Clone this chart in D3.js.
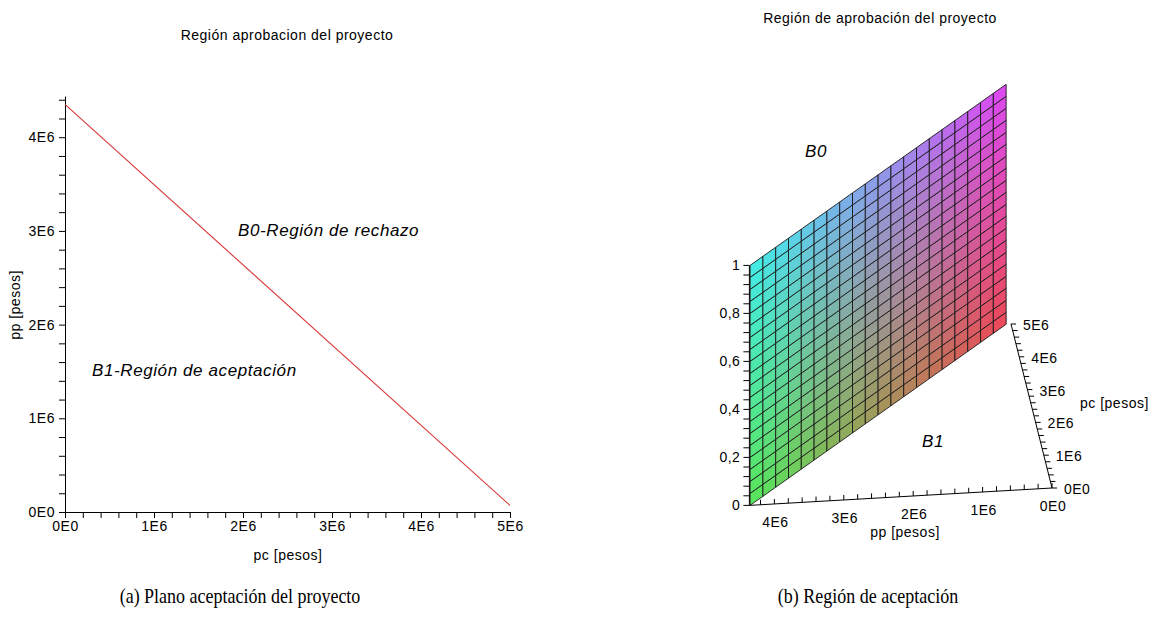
<!DOCTYPE html>
<html>
<head>
<meta charset="utf-8">
<script src="https://cdn.jsdelivr.net/npm/d3@7"></script>
<style>
  body { margin: 0; background: #fff; }
  svg text { font-family: "Liberation Sans", Arial, sans-serif; fill: #000; }
  .mp { font-size: 14px; letter-spacing: 0.5px; }
  .it { font-size: 17px; font-style: italic; letter-spacing: 0.6px; }
  .cap { font-family: "Liberation Serif", "Times New Roman", serif !important; font-size: 18px; }
</style>
</head>
<body>
<svg id="fig" width="1157" height="623"></svg>
<script>
// boundary line pp = f(pc)
const pcEnds = [0, 5e6];
const ppEnds = [4.35e6, 0.07e6];

// tick labels
const pcMajor = [0, 1e6, 2e6, 3e6, 4e6, 5e6];
const pcLabels = ["0E0", "1E6", "2E6", "3E6", "4E6", "5E6"];
const ppMajor = [0, 1e6, 2e6, 3e6, 4e6];
const ppLabels = ["0E0", "1E6", "2E6", "3E6", "4E6"];
const zMajor = [0, 0.2, 0.4, 0.6, 0.8, 1];
const zLabels = ["0", "0,2", "0,4", "0,6", "0,8", "1"];

// surface mesh and corner colours (pc low/high x z low/high)
const meshCols = 20, meshRows = 20;
const cornerColors = { c00: "rgb(86,232,90)", c01: "rgb(64,238,230)", c10: "rgb(238,70,86)", c11: "rgb(222,70,242)" };

const svg = d3.select('#fig');
const fmtLab = (vals, labs) => d => { const i = vals.indexOf(d); return i < 0 ? "" : labs[i]; };
const minor = (max, step) => d3.range(0, max + step / 2, step).map(v => Math.round(v / step) * step);

// ---------- left: 2D plane ----------
const xL = d3.scaleLinear().domain([0, 5e6]).range([65, 510]);
const yL = d3.scaleLinear().domain([0, 4.44e6]).range([512, 96]);

const gx = svg.append('g').attr('class', 'mp').attr('transform', 'translate(0,512)')
    .call(d3.axisBottom(xL).tickValues(minor(5e6, 2e5)).tickSize(6).tickSizeOuter(0).tickPadding(3)
        .tickFormat(fmtLab(pcMajor, pcLabels)));
const gy = svg.append('g').attr('class', 'mp').attr('transform', 'translate(65,0)')
    .call(d3.axisLeft(yL).tickValues(minor(4.4e6, 2e5)).tickSize(6).tickSizeOuter(0).tickPadding(4)
        .tickFormat(fmtLab(ppMajor, ppLabels)));
[gx, gy].forEach(g => g.attr('font-size', null).attr('font-family', null));

svg.append('path')
    .datum(pcEnds.map((pc, i) => [pc, ppEnds[i]]))
    .attr('d', d3.line().x(d => xL(d[0])).y(d => yL(d[1])))
    .attr('fill', 'none').attr('stroke', '#d83434').attr('stroke-width', 1.1);

svg.append('text').attr('class', 'mp').attr('x', 287).attr('y', 40).attr('text-anchor', 'middle')
    .text('Región aprobacion del proyecto');
svg.append('text').attr('class', 'mp').attr('x', 288).attr('y', 560).attr('text-anchor', 'middle')
    .text('pc [pesos]');
svg.append('text').attr('class', 'mp').attr('transform', 'translate(20,305) rotate(-90)').attr('text-anchor', 'middle')
    .text('pp [pesos]');
svg.append('text').attr('class', 'it').attr('x', 238).attr('y', 236).text('B0-Región de rechazo');
svg.append('text').attr('class', 'it').attr('x', 92).attr('y', 376).text('B1-Región de aceptación');

// ---------- right: 3D view ----------
const ppMax = 4.36e6;
const pcS = d3.scaleLinear().domain([0, 5e6]).range([0, 1]);
const ppS = d3.scaleLinear().domain([0, ppMax]).range([0, 1]);
const zS = d3.scaleLinear().domain([0, 1]).range([0, 1]);
const O = [1052, 488], UF = [-41, -164], VF = [-302.6, 17.4], WF = [0, -240];
const proj = (pc, pp, z) => [
    O[0] + pcS(pc) * UF[0] + ppS(pp) * VF[0] + zS(z) * WF[0],
    O[1] + pcS(pc) * UF[1] + ppS(pp) * VF[1] + zS(z) * WF[1]
];
const lineAt = d3.scaleLinear().domain(pcEnds).range(ppEnds);
const colorAt = (u, v) => d3.interpolateRgb(
    d3.interpolateRgb(cornerColors.c00, cornerColors.c10)(u),
    d3.interpolateRgb(cornerColors.c01, cornerColors.c11)(u))(v);

const cells = [];
for (let i = 0; i < meshCols; i++) {
    for (let j = 0; j < meshRows; j++) {
        const pa = pcEnds[0] + (pcEnds[1] - pcEnds[0]) * i / meshCols;
        const pb = pcEnds[0] + (pcEnds[1] - pcEnds[0]) * (i + 1) / meshCols;
        const za = j / meshRows, zb = (j + 1) / meshRows;
        cells.push({
            pts: [proj(pa, lineAt(pa), za), proj(pb, lineAt(pb), za), proj(pb, lineAt(pb), zb), proj(pa, lineAt(pa), zb)],
            fill: colorAt((i + 0.5) / meshCols, (j + 0.5) / meshRows)
        });
    }
}
svg.append('g').selectAll('polygon').data(cells).join('polygon')
    .attr('points', d => d.pts.map(p => p.join(',')).join(' '))
    .attr('fill', d => d.fill)
    .attr('stroke', '#1a1a1a').attr('stroke-width', 0.9).attr('stroke-linejoin', 'round');

const ax = svg.append('g').attr('stroke', '#000').attr('stroke-width', 1).attr('fill', 'none');
const seg = (a, b) => ax.append('line').attr('x1', a[0]).attr('y1', a[1]).attr('x2', b[0]).attr('y2', b[1]);

// z axis
seg(proj(0, ppMax, 0), proj(0, ppMax, 1));
minor(1, 0.04).forEach(z => { const p = proj(0, ppMax, z); seg(p, [p[0] - 6, p[1]]); });
zMajor.forEach((z, i) => {
    const p = proj(0, ppMax, z);
    svg.append('text').attr('class', 'mp').attr('x', p[0] - 9).attr('y', p[1]).attr('dy', '0.35em')
        .attr('text-anchor', 'end').text(zLabels[i]);
});
// pp axis
seg(proj(0, 0, 0), proj(0, ppMax, 0));
minor(4.2e6, 2e5).forEach(v => { const p = proj(0, v, 0); seg(p, [p[0], p[1] - 5]); });
ppMajor.forEach((v, i) => {
    const p = proj(0, v, 0);
    svg.append('text').attr('class', 'mp').attr('x', p[0] + 1).attr('y', p[1] + 18).attr('dy', '0.35em')
        .attr('text-anchor', 'middle').text(ppLabels[i]);
});
// pc axis
seg(proj(0, 0, 0), proj(5e6, 0, 0));
minor(5e6, 2e5).forEach(v => { const p = proj(v, 0, 0); seg(p, [p[0] + 5, p[1]]); });
pcMajor.forEach((v, i) => {
    const p = proj(v, 0, 0);
    svg.append('text').attr('class', 'mp').attr('x', p[0] + 12).attr('y', p[1] + 1).attr('dy', '0.35em')
        .text(pcLabels[i]);
});

svg.append('text').attr('class', 'mp').attr('x', 880).attr('y', 23).attr('text-anchor', 'middle')
    .text('Región de aprobación del proyecto');
svg.append('text').attr('class', 'mp').attr('x', 905).attr('y', 532).attr('dy', '0.35em').attr('text-anchor', 'middle')
    .text('pp [pesos]');
svg.append('text').attr('class', 'mp').attr('x', 1080).attr('y', 403).attr('dy', '0.35em')
    .text('pc [pesos]');
svg.append('text').attr('class', 'it').attr('x', 805).attr('y', 157).text('B0');
svg.append('text').attr('class', 'it').attr('x', 922).attr('y', 447).text('B1');

// captions (slightly tall serif)
[[240, '(a)  Plano aceptación del proyecto'], [868, '(b)  Región de aceptación']].forEach(([cx, t]) => {
    svg.append('text').attr('class', 'cap').attr('text-anchor', 'middle')
        .attr('transform', `translate(${cx},603) scale(1,1.18)`).text(t);
});
</script>
</body>
</html>
